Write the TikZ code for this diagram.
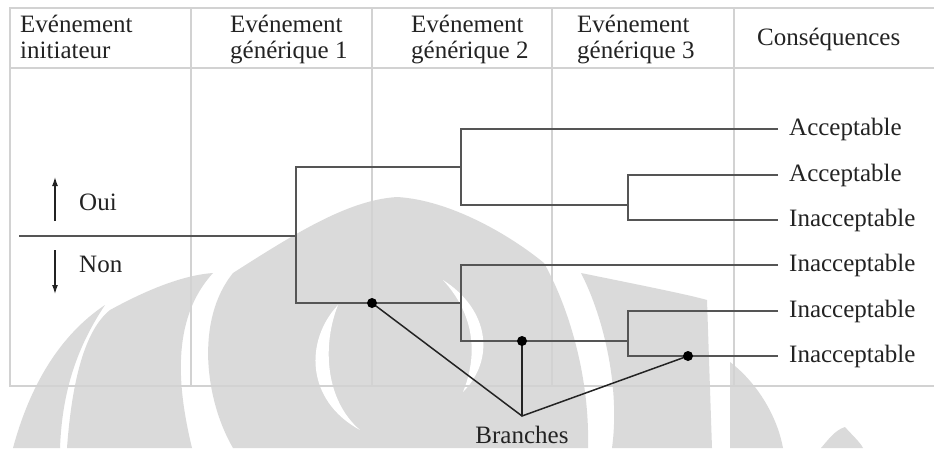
\documentclass[tikz,border=0pt]{standalone}
\usepackage{fontspec}
\setmainfont{Liberation Serif}
\usetikzlibrary{arrows.meta}
\definecolor{wm}{RGB}{218,218,218}
\definecolor{gridc}{RGB}{210,210,210}
\definecolor{treec}{RGB}{85,85,85}
\definecolor{ink}{RGB}{35,35,35}
\begin{document}
\begin{tikzpicture}[x=1pt,y=-1pt,
  every node/.style={font=\fontsize{25}{26}\selectfont, text=ink, inner sep=0pt},
  gridline/.style={draw=gridc, line width=1.4pt},
  treeline/.style={draw=treec, line width=2pt},
  branchline/.style={draw=ink, line width=1.5pt},
  dot/.style={circle, fill=black, minimum size=10pt, inner sep=0pt},
  head/.style={anchor=base west},
  outcome/.style={anchor=west, inner xsep=11pt, text height=17pt, text depth=5pt},
  watermark/.style={fill=wm, draw=none},
  choice/.style={draw=ink, line width=1.3pt, -{Latex[length=9pt,width=6pt]}}]
\useasboundingbox (0,0) rectangle (934,448);

% faint emblem behind the table
\path[watermark] (233,448) .. controls (205,400) and (195,320) .. (233,273)
  .. controls (300,230) and (350,200) .. (397,197)
  .. controls (450,200) and (510,235) .. (544,263)
  .. controls (565,300) and (590,370) .. (588,448) -- cycle;
\path[watermark] (67,448) .. controls (72,380) and (85,330) .. (110,310)
  .. controls (150,288) and (185,275) .. (213,273)
  .. controls (170,320) and (178,390) .. (192,448) -- cycle;
\path[watermark] (13,448) .. controls (30,385) and (60,335) .. (105,305)
  .. controls (75,350) and (62,395) .. (60,448) -- cycle;
\path[watermark] (581,273) .. controls (640,285) and (690,295) .. (707,300)
  -- (712,448) -- (612,448) .. controls (620,390) and (605,320) .. (581,273) -- cycle;
\path[watermark] (730,448) -- (730,362) .. controls (760,385) and (778,420) .. (783,448) -- cycle;
\path[watermark] (821,448) .. controls (828,440) and (835,430) .. (845,427)
  .. controls (852,435) and (860,442) .. (863,448) -- cycle;
\path[fill=white] (338,305) .. controls (305,340) and (305,400) .. (360,430)
  .. controls (325,400) and (322,345) .. (338,305) -- cycle;
\path[fill=white] (443,280) .. controls (490,310) and (495,360) .. (463,392)
  .. controls (478,355) and (475,315) .. (443,280) -- cycle;

% table frame and column rules
\draw[gridline] (934,8) -- (10,8) -- (10,386) -- (934,386);
\draw[gridline] (10,68) -- (934,68);
\foreach \x in {191,372,552,734} \draw[gridline] (\x,8) -- (\x,386);

% column headings
\node[head] (h1a) at (20,32) {Evénement};
\node[head] (h1b) at (20,58) {initiateur};
\node[head] (h2a) at (230,32) {Evénement};
\node[head] (h2b) at (230,58) {générique 1};
\node[head] (h3a) at (411,32) {Evénement};
\node[head] (h3b) at (411,58) {générique 2};
\node[head] (h4a) at (577,32) {Evénement};
\node[head] (h4b) at (577,58) {générique 3};
\node[head] (h5) at (757,45) {Conséquences};

% yes / no legend
\node[head] (oui) at (79,210) {Oui};
\node[head] (non) at (79,272) {Non};
\coordinate (up0) at (55,221);
\coordinate (up1) at (55,177);
\coordinate (dn0) at (55,250);
\coordinate (dn1) at (55,294);
\draw[choice] (up0) -- (up1);
\draw[choice] (dn0) -- (dn1);

% outcomes
\node[outcome] (o1) at (778,129) {Acceptable};
\node[outcome] (o2) at (778,175) {Acceptable};
\node[outcome] (o3) at (778,220) {Inacceptable};
\node[outcome] (o4) at (778,265) {Inacceptable};
\node[outcome] (o5) at (778,311) {Inacceptable};
\node[outcome] (o6) at (778,356) {Inacceptable};

% branching points
\coordinate (i0) at (19,236);
\coordinate (f1) at (296,236);
\coordinate (f1u) at (296,167);
\coordinate (f1d) at (296,303);
\coordinate (f2u) at (461,167);
\coordinate (f2d) at (461,303);
\coordinate (f2ua) at (461,129);
\coordinate (f2ub) at (461,205);
\coordinate (f2da) at (461,265);
\coordinate (f2db) at (461,341);
\coordinate (f3u) at (628,205);
\coordinate (f3ua) at (628,175);
\coordinate (f3ub) at (628,220);
\coordinate (f3d) at (628,341);
\coordinate (f3da) at (628,311);
\coordinate (f3db) at (628,356);

\draw[treeline] (i0) -- (f1);
\draw[treeline] (f2u) -- (f1u) -- (f1d) -- (f2d);
\draw[treeline] (o1.west) -- (f2ua) -- (f2ub) -- (f3u);
\draw[treeline] (o4.west) -- (f2da) -- (f2db) -- (f3d);
\draw[treeline] (o2.west) -- (f3ua) -- (f3ub) -- (o3.west);
\draw[treeline] (o5.west) -- (f3da) -- (f3db) -- (o6.west);

% branch callout
\coordinate (b1) at (372,303);
\coordinate (b2) at (522,341);
\coordinate (b3) at (688,356);
\coordinate (br) at (522,416);
\draw[branchline] (b1) -- (br) -- (b3);
\draw[branchline] (b2) -- (br);
\node[dot] (d1) at (b1) {};
\node[dot] (d2) at (b2) {};
\node[dot] (d3) at (b3) {};
\node[anchor=base] (brl) at (522,443) {Branches};
\end{tikzpicture}
\end{document}
